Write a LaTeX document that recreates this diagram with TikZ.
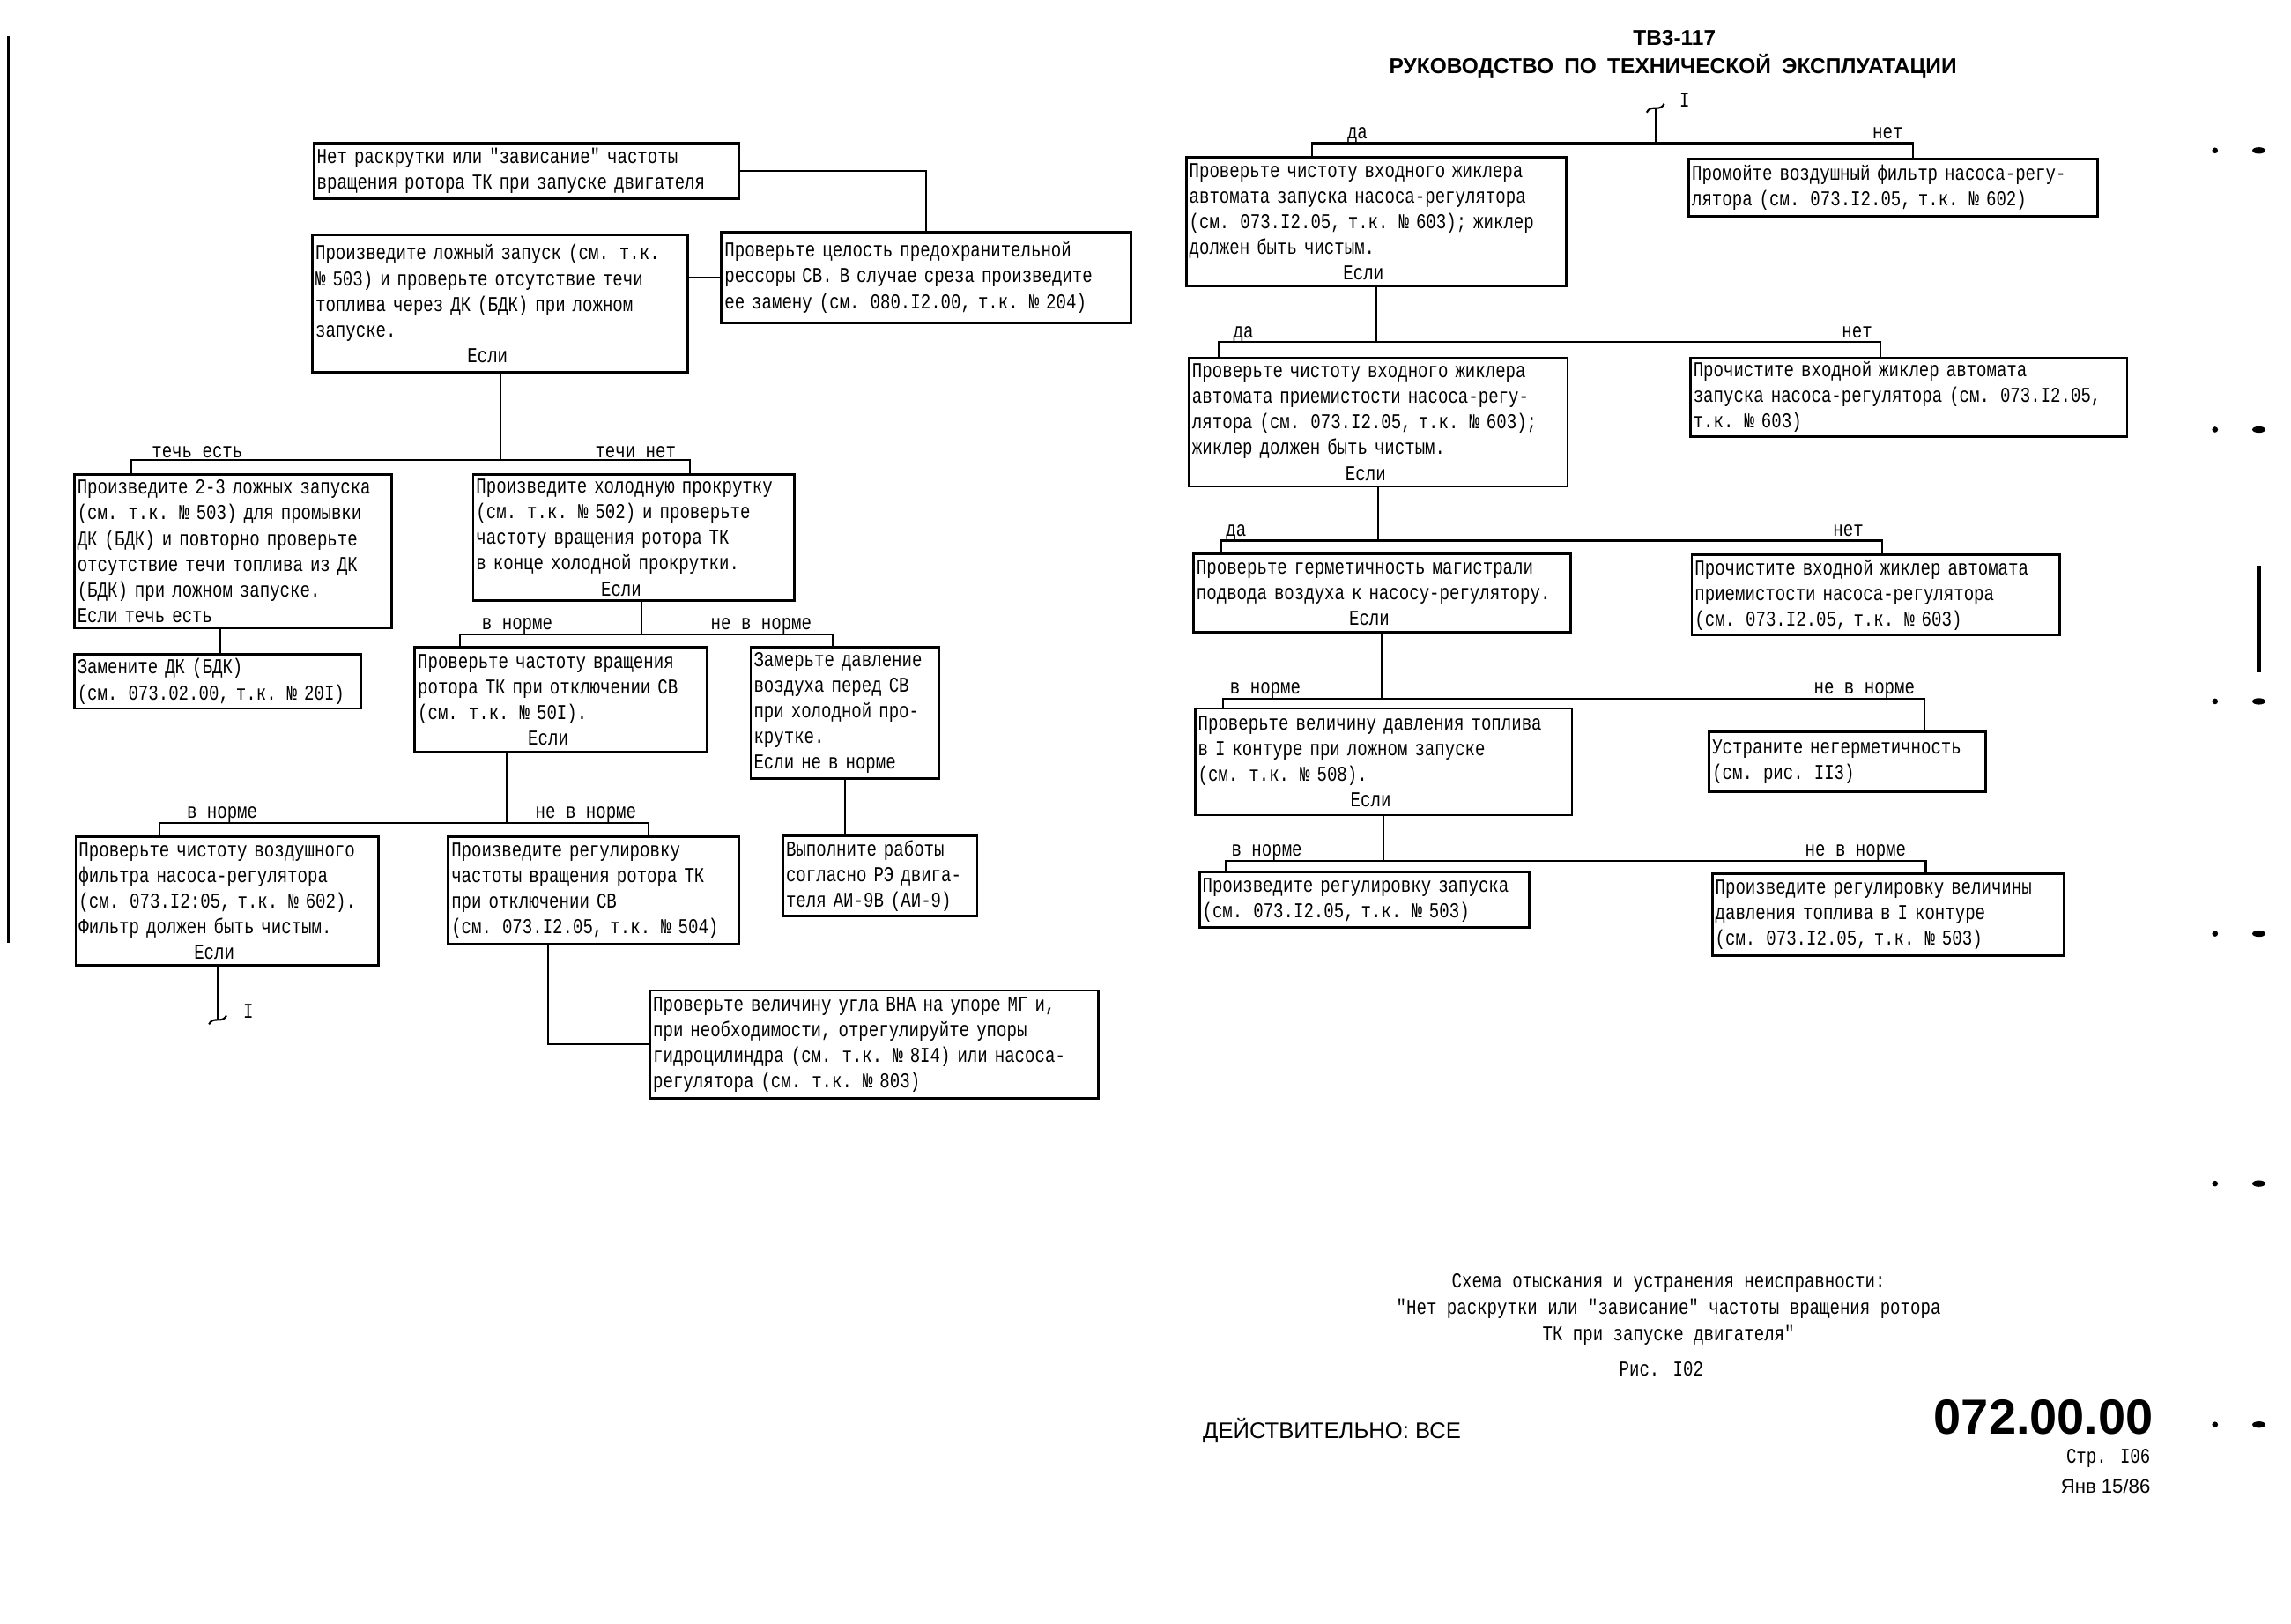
\documentclass[tikz,border=0pt]{standalone}
\usepackage{fontspec}
\setmainfont{Liberation Serif}
\newfontfamily\tw[FakeStretch=0.794]{Liberation Mono}
\newfontfamily\hd{Liberation Sans}
\usetikzlibrary{calc}
\newcommand{\centrow}[1]{\par{\centering #1\hspace*{1.2em}\par}}

\begin{document}
\begin{tikzpicture}[x=0.25mm,y=-0.25mm,
  cell/.style n args={2}{draw,line width=1.2pt,anchor=north west,align=left,inner xsep=1.5pt,inner ysep=1pt,
    text width={#1*0.25mm-3pt},minimum height={#2*0.25mm},font=\tw\fontsize{10.3}{12.5}\selectfont},
  tag/.style={anchor=base,inner sep=0pt,font=\tw\fontsize{10.3}{12.5}\selectfont},
  wire/.style={line width=0.9pt}]
\useasboundingbox (0,0) rectangle (1568,1111);

% left half of the chart
\node[cell={291}{38}] (start) at (214,97) {Нет раскрутки или "зависание" частоты\\вращения ротора ТК при запуске двигателя};
\node[cell={257}{94}] (falsestart) at (213,160) {Произведите ложный запуск (см. т.к.\\№ 503) и проверьте отсутствие течи\\топлива через ДК (БДК) при ложном\\запуске.\centrow{Если}};
\node[cell={280}{62}] (spring) at (493,158) {Проверьте целость предохранительной\\рессоры СВ. В случае среза произведите\\ее замену (см. 080.I2.00, т.к. № 204)};
\node[cell={217}{105}] (flush) at (50,324) {Произведите 2-3 ложных запуска\\(см. т.к. № 503) для промывки\\ДК (БДК) и повторно проверьте\\отсутствие течи топлива из ДК\\(БДК) при ложном запуске.\\Если течь есть};
\node[cell={220}{86}] (coldrun) at (323,324) {Произведите холодную прокрутку\\(см. т.к. № 502) и проверьте\\частоту вращения ротора ТК\\в конце холодной прокрутки.\centrow{Если}};
\node[cell={196}{37}] (replace) at (50,447) {Замените ДК (БДК)\\(см. 073.02.00, т.к. № 20I)};
\node[cell={200}{72}] (svoff) at (283,442) {Проверьте частоту вращения\\ротора ТК при отключении СВ\\(см. т.к. № 50I).\centrow{Если}};
\node[cell={129}{90}] (airp) at (513,442) {Замерьте давление\\воздуха перед СВ\\при холодной про-\\крутке.\\Если не в норме};
\node[cell={207}{88}] (filter) at (51,572) {Проверьте чистоту воздушного\\фильтра насоса-регулятора\\(см. 073.I2:05, т.к. № 602).\\Фильтр должен быть чистым.\centrow{Если}};
\node[cell={199}{73}] (tkadj) at (306,572) {Произведите регулировку\\частоты вращения ротора ТК\\при отключении СВ\\(см. 073.I2.05, т.к. № 504)};
\node[cell={133}{55}] (manual) at (535,571) {Выполните работы\\согласно РЭ двига-\\теля АИ-9В (АИ-9)};
\node[cell={307}{74}] (vane) at (444,677) {Проверьте величину угла ВНА на упоре МГ и,\\при необходимости, отрегулируйте упоры\\гидроцилиндра (см. т.к. № 8I4) или насоса-\\регулятора (см. т.к. № 803)};

\coordinate (leak1) at (90,315);
\coordinate (noleak1) at (472,315);
\coordinate (dk) at (151,440);
\coordinate (e2) at (439,434);
\coordinate (ok2) at (315,434);
\coordinate (bad2) at (570,434);
\coordinate (g3) at (347,563);
\coordinate (ok3) at (109,563);
\coordinate (bad3) at (444,563);
\coordinate (endI) at (149,698);
\coordinate (j4) at (375,718);

\draw[wire] (start.east) -| (spring.north);
\draw[wire] (falsestart.east |- spring.west) -- (spring.west);
\draw[wire] (falsestart.south) -- (falsestart.south |- leak1);
\draw[wire] (flush.north -| leak1) |- (noleak1) -- (coldrun.north -| noleak1);
\draw[wire] (flush.south -| dk) -- (replace.north -| dk);
\draw[wire] (coldrun.south -| e2) -- (e2);
\draw[wire] (svoff.north -| ok2) |- (bad2) -- (airp.north -| bad2);
\draw[wire] (svoff.south -| g3) -- (g3);
\draw[wire] (filter.north -| ok3) |- (bad3) -- (tkadj.north -| bad3);
\draw[wire] (airp.south) -- (airp.south |- manual.north);
\draw[wire] (filter.south -| endI) -- (endI);
\draw[wire] ($(endI)+(-6,3)$) .. controls ($(endI)+(-3,-3)$) and ($(endI)+(3,3)$) .. ($(endI)+(6,-3)$);
\draw[wire] (tkadj.south -| j4) |- (vane.west);

\node[tag] (t1) at (135,313) {течь есть};
\node[tag] (t2) at (435,313) {течи нет};
\node[tag] (t3) at (354,431) {в норме};
\node[tag] (t4) at (521,431) {не в норме};
\node[tag] (t5) at (152,560) {в норме};
\node[tag] (t6) at (401,560) {не в норме};
\node[tag] (termA) at (170,697) {I};

% right half of the chart
\node[cell={260}{88}] (jet1) at (811,107) {Проверьте чистоту входного жиклера\\автомата запуска насоса-регулятора\\(см. 073.I2.05, т.к. № 603); жиклер\\должен быть чистым.\centrow{Если}};
\node[cell={280}{39}] (wash) at (1155,108) {Промойте воздушный фильтр насоса-регу-\\лятора (см. 073.I2.05, т.к. № 602)};
\node[cell={259}{88}] (jet2) at (813,244) {Проверьте чистоту входного жиклера\\автомата приемистости насоса-регу-\\лятора (см. 073.I2.05, т.к. № 603);\\жиклер должен быть чистым.\centrow{Если}};
\node[cell={299}{54}] (clean1) at (1156,244) {Прочистите входной жиклер автомата\\запуска насоса-регулятора (см. 073.I2.05,\\т.к. № 603)};
\node[cell={258}{54}] (airline) at (816,378) {Проверьте герметичность магистрали\\подвода воздуха к насосу-регулятору.\centrow{Если}};
\node[cell={252}{55}] (clean2) at (1157,379) {Прочистите входной жиклер автомата\\приемистости насоса-регулятора\\(см. 073.I2.05, т.к. № 603)};
\node[cell={258}{73}] (fuelp) at (817,484) {Проверьте величину давления топлива\\в I контуре при ложном запуске\\(см. т.к. № 508).\centrow{Если}};
\node[cell={189}{41}] (leak) at (1169,500) {Устраните негерметичность\\(см. рис. II3)};
\node[cell={226}{38}] (startadj) at (820,596) {Произведите регулировку запуска\\(см. 073.I2.05, т.к. № 503)};
\node[cell={241}{56}] (padj) at (1171,597) {Произведите регулировку величины\\давления топлива в I контуре\\(см. 073.I2.05, т.к. № 503)};

\coordinate (topI) at (1133,74);
\coordinate (yes1) at (898,98);
\coordinate (no1) at (1309,98);
\coordinate (yes2) at (834,234);
\coordinate (no2) at (1287,234);
\coordinate (yes3) at (836,370);
\coordinate (no3) at (1288,370);
\coordinate (ok4) at (837,478);
\coordinate (bad4) at (1317,478);
\coordinate (ok5) at (839,589);
\coordinate (bad5) at (1318,589);

\draw[wire] ($(topI)+(-6,3)$) .. controls ($(topI)+(-3,-3)$) and ($(topI)+(3,3)$) .. ($(topI)+(6,-3)$);
\draw[wire] (topI) -- (topI |- yes1);
\draw[wire] (jet1.north -| yes1) |- (no1) -- (wash.north -| no1);
\draw[wire] (jet1.south) -- (jet1.south |- yes2);
\draw[wire] (jet2.north -| yes2) |- (no2) -- (clean1.north -| no2);
\draw[wire] (jet2.south) -- (jet2.south |- yes3);
\draw[wire] (airline.north -| yes3) |- (no3) -- (clean2.north -| no3);
\draw[wire] (airline.south) -- (airline.south |- ok4);
\draw[wire] (fuelp.north -| ok4) |- (bad4) -- (leak.north -| bad4);
\draw[wire] (fuelp.south) -- (fuelp.south |- ok5);
\draw[wire] (startadj.north -| ok5) |- (bad5) -- (padj.north -| bad5);

\node[tag] (termB) at (1153,73) {I};
\node[tag] (y1) at (929,95) {да};
\node[tag] (n1) at (1292,95) {нет};
\node[tag] (y2) at (851,231) {да};
\node[tag] (n2) at (1271,231) {нет};
\node[tag] (y3) at (846,367) {да};
\node[tag] (n3) at (1265,367) {нет};
\node[tag] (o4) at (866,475) {в норме};
\node[tag] (b4) at (1276,475) {не в норме};
\node[tag] (o5) at (867,586) {в норме};
\node[tag] (b5) at (1270,586) {не в норме};

% page head and foot
\node[font=\hd\bfseries\fontsize{10.5}{13}\selectfont] (series) at (1146,26) {ТВ3-117};
\node[font=\hd\bfseries\fontsize{10.5}{13}\selectfont] (book) at (1145,45) {РУКОВОДСТВО\enspace ПО\enspace ТЕХНИЧЕСКОЙ\enspace ЭКСПЛУАТАЦИИ};
\node[align=center,font=\tw\fontsize{10.3}{12.8}\selectfont] (caption) at (1142,896) {Схема отыскания и устранения неисправности:\\"Нет раскрутки или "зависание" частоты вращения ротора\\ТК при запуске двигателя"};
\node[font=\tw\fontsize{10.3}{12.5}\selectfont] (fig) at (1137,937) {Рис. I02};
\node[anchor=west,inner sep=0pt,font=\hd\fontsize{11}{13}\selectfont] (valid) at (823,979) {ДЕЙСТВИТЕЛЬНО: ВСЕ};
\node[anchor=east,inner sep=0pt,font=\hd\bfseries\fontsize{24}{28}\selectfont] (chapter) at (1474,970) {072.00.00};
\node[anchor=east,inner sep=0pt,font=\tw\fontsize{10.3}{12.5}\selectfont] (page) at (1472,998) {Стр. I06};
\node[anchor=east,inner sep=0pt,font=\hd\fontsize{9.5}{11}\selectfont] (date) at (1472,1017) {Янв 15/86};

% binding edge and punch marks of the sheet
\draw[line width=1.3pt] (6,25) -- (6,645);
\foreach \y in {103,294,480,639,810,975}{
  \fill (1516,\y) circle [radius=2];
  \fill (1546,\y) ellipse [x radius=4.5,y radius=2.2];
}
\fill (1544.5,387) rectangle (1547.5,460);
\end{tikzpicture}
\end{document}
